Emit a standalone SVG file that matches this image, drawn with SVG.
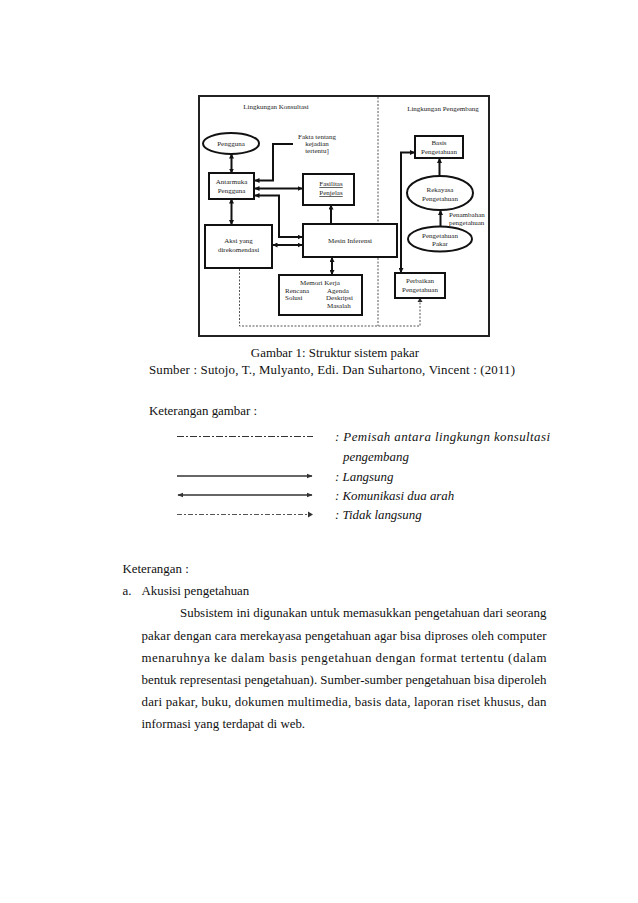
<svg xmlns="http://www.w3.org/2000/svg" width="638" height="903" viewBox="0 0 638 903">
<style>
.d{font-family:"Liberation Serif","Times New Roman",serif;font-size:7px;fill:#222}
.dm{font-family:"Liberation Serif","Times New Roman",serif;font-size:7px;fill:#222;text-anchor:middle}
.t{font-family:"Liberation Serif","Times New Roman",serif;font-size:12.9px;fill:#111}
.ti{font-family:"Liberation Serif","Times New Roman",serif;font-size:12.9px;fill:#111;font-style:italic}
.box{fill:#fff;stroke:#111;stroke-width:2}
.c{fill:none;stroke:#111;stroke-width:2}
.dash{fill:none;stroke:#555;stroke-width:1;stroke-dasharray:2 1.5}
.lg{fill:none;stroke:#333;stroke-width:1.4}
</style>
<defs>
<marker id="ah" viewBox="0 0 10 10" refX="9" refY="5" markerWidth="5" markerHeight="5" markerUnits="userSpaceOnUse" orient="auto-start-reverse"><path d="M0,0 L10,5 L0,10 Z" fill="#111"/></marker>
<marker id="ahs" viewBox="0 0 10 10" refX="9" refY="5" markerWidth="6" markerHeight="6" markerUnits="userSpaceOnUse" orient="auto-start-reverse"><path d="M0,1 L10,5 L0,9 Z" fill="#333"/></marker>
</defs>
<rect width="638" height="903" fill="#fff"/>

<g id="frame">
<rect x="199" y="96" width="290" height="240" fill="#fff" stroke="#222" stroke-width="2"/>
<line class="dash" x1="378" y1="97" x2="378" y2="326"/>
<text class="dm" x="276" y="109">Lingkungan Konsultasi</text>
<text class="dm" x="443" y="111">Lingkungan Pengembang</text>
</g>

<g id="connectors">
<path class="c" d="M231.5,154 V173" marker-start="url(#ah)" marker-end="url(#ah)"/>
<path class="c" d="M293,144 H273 V180.5 H255" marker-end="url(#ah)"/>
<path class="c" d="M255,188.5 H302" marker-start="url(#ah)" marker-end="url(#ah)"/>
<path class="c" d="M255,195.5 H279 V237 H302" marker-start="url(#ah)" marker-end="url(#ah)"/>
<path class="c" d="M231.5,199 V224.5" marker-start="url(#ah)" marker-end="url(#ah)"/>
<path class="c" d="M273,245 H302" marker-start="url(#ah)" marker-end="url(#ah)"/>
<path class="c" d="M331,224 V205" marker-end="url(#ah)"/>
<path class="c" d="M332,257.5 V274.5" marker-start="url(#ah)" marker-end="url(#ah)"/>
<path class="c" d="M414.5,152.5 H401 V272.5" marker-start="url(#ah)" marker-end="url(#ah)"/>
<path class="c" d="M439.5,176 V158.5" marker-end="url(#ah)"/>
<path class="c" d="M440.5,226.5 V210.5" marker-end="url(#ah)"/>
<path class="dash" d="M239.5,269 V326 H420 V298.5"/>
<path d="M417.5,302 L420,297.5 L422.5,302 Z" fill="#333"/>
</g>

<g id="pengguna">
<ellipse class="box" cx="231" cy="143.5" rx="28" ry="10.5"/>
<text class="dm" x="231" y="146">Pengguna</text>
</g>
<g id="fakta">
<text class="dm" x="317" y="139">Fakta tentang</text>
<text class="dm" x="317" y="146">kejadian</text>
<text class="dm" x="317" y="153">tertentu]</text>
</g>
<g id="antarmuka">
<rect class="box" x="209" y="173" width="45" height="26"/>
<text class="dm" x="231.5" y="184">Antarmuka</text>
<text class="dm" x="231.5" y="193">Pengguna</text>
</g>
<g id="fasilitas">
<rect class="box" x="303" y="174" width="51" height="31"/>
<text class="dm" x="331" y="186" text-decoration="underline">Fasilitas</text>
<text class="dm" x="331" y="195" text-decoration="underline">Penjelas</text>
</g>
<g id="aksi">
<rect class="box" x="205" y="225" width="67" height="43"/>
<text class="dm" x="238.5" y="242.5">Aksi yang</text>
<text class="dm" x="238.5" y="251.5">direkomendasi</text>
</g>
<g id="mesin">
<rect class="box" x="303" y="224" width="94" height="33"/>
<text class="dm" x="350" y="242.5">Mesin Inferensi</text>
</g>
<g id="memori">
<rect class="box" x="279" y="275" width="83" height="40"/>
<text class="d" x="300" y="285">Memori Kerja</text>
<text class="d" x="285" y="292.5">Rencana</text>
<text class="d" x="285" y="300">Solusi</text>
<text class="d" x="327" y="292.5">Agenda</text>
<text class="d" x="326" y="300">Deskripsi</text>
<text class="d" x="327" y="307.5">Masalah</text>
</g>
<g id="basis">
<rect class="box" x="415" y="136" width="48" height="22"/>
<text class="dm" x="439" y="145">Basis</text>
<text class="dm" x="439" y="153.5">Pengetahuan</text>
</g>
<g id="rekayasa">
<ellipse class="box" cx="440" cy="193" rx="33" ry="17"/>
<text class="dm" x="440" y="192">Rekayasa</text>
<text class="dm" x="440" y="200.5">Pengetahuan</text>
</g>
<g id="penambahan">
<text class="d" x="449" y="217">Penambahan</text>
<text class="d" x="449" y="225">pengetahuan</text>
</g>
<g id="pakar">
<ellipse class="box" cx="440" cy="239" rx="32" ry="12.5"/>
<text class="dm" x="440" y="237.5">Pengetahuan</text>
<text class="dm" x="440" y="246">Pakar</text>
</g>
<g id="perbaikan">
<rect class="box" x="395" y="273" width="50" height="25"/>
<text class="dm" x="420" y="283">Perbaikan</text>
<text class="dm" x="420" y="291.5">Pengetahuan</text>
</g>

<g id="caption">
<text class="t" x="335" y="357" text-anchor="middle">Gambar 1: Struktur sistem pakar</text>
<text class="t" x="149" y="374" textLength="366" lengthAdjust="spacing">Sumber : Sutojo, T., Mulyanto, Edi. Dan Suhartono, Vincent : (2011)</text>
</g>

<g id="legend">
<text class="t" x="149" y="415">Keterangan gambar :</text>
<line x1="177" y1="436.5" x2="313" y2="436.5" stroke="#333" stroke-width="1" stroke-dasharray="7 2 2 2"/>
<text class="ti" x="335" y="441" textLength="215" lengthAdjust="spacing">: Pemisah antara lingkungn konsultasi</text>
<text class="ti" x="343" y="460.5">pengembang</text>
<line class="lg" x1="177" y1="476" x2="312" y2="476" marker-end="url(#ahs)"/>
<text class="ti" x="335" y="480.5">: Langsung</text>
<line class="lg" x1="178" y1="495" x2="312" y2="495" marker-start="url(#ahs)" marker-end="url(#ahs)"/>
<text class="ti" x="335" y="499.5">: Komunikasi dua arah</text>
<line x1="177" y1="514.5" x2="309" y2="514.5" stroke="#555" stroke-width="1.2" stroke-dasharray="5 2 2 2"/>
<path d="M308,511.5 L313,514.5 L308,517.5 Z" fill="#333"/>
<text class="ti" x="335" y="518.5">: Tidak langsung</text>
</g>

<g id="body">
<text class="t" x="122.5" y="572.5">Keterangan :</text>
<text class="t" x="122.5" y="595">a.</text>
<text class="t" x="141.5" y="595">Akusisi pengetahuan</text>
<text class="t" x="180" y="617" textLength="366.5" lengthAdjust="spacing">Subsistem ini digunakan untuk memasukkan pengetahuan dari seorang</text>
<text class="t" x="141.5" y="639.5" textLength="405" lengthAdjust="spacing">pakar dengan cara merekayasa pengetahuan agar bisa diproses oleh computer</text>
<text class="t" x="141.5" y="661.5" textLength="405" lengthAdjust="spacing">menaruhnya ke dalam basis pengetahuan dengan format tertentu (dalam</text>
<text class="t" x="141.5" y="683.5" textLength="405" lengthAdjust="spacing">bentuk representasi pengetahuan). Sumber-sumber pengetahuan bisa diperoleh</text>
<text class="t" x="141.5" y="705.5" textLength="405" lengthAdjust="spacing">dari pakar, buku, dokumen multimedia, basis data, laporan riset khusus, dan</text>
<text class="t" x="141.5" y="727.5">informasi yang terdapat di web.</text>
</g>
</svg>
